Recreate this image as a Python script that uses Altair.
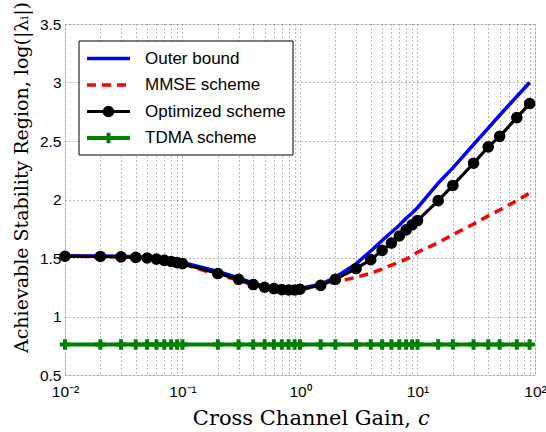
import altair as alt
import pandas as pd

# Cross channel gain c (log-spaced sample points)
gain = [0.01, 0.02, 0.03, 0.04, 0.05, 0.06, 0.07, 0.08, 0.09, 0.1,
        0.2, 0.3, 0.4, 0.5, 0.6, 0.7, 0.8, 0.9, 1.0,
        1.5, 2, 3, 4, 5, 6, 7, 8, 9, 10,
        15, 20, 30, 40, 50, 70, 90]

# Achievable stability region, log(|lambda_i|)
outer_bound = [1.52, 1.518, 1.515, 1.51, 1.505, 1.495, 1.487, 1.478, 1.47, 1.462,
               1.385, 1.33, 1.285, 1.258, 1.243, 1.237, 1.235, 1.236, 1.24,
               1.275, 1.335, 1.45, 1.56, 1.65, 1.72, 1.78, 1.84, 1.885, 1.93,
               2.14, 2.27, 2.47, 2.61, 2.72, 2.88, 3.0]
mmse = [1.515, 1.513, 1.51, 1.505, 1.5, 1.49, 1.48, 1.47, 1.46, 1.45,
        1.355, 1.31, 1.27, 1.248, 1.235, 1.228, 1.225, 1.225, 1.23,
        1.262, 1.295, 1.335, 1.37, 1.405, 1.44, 1.465, 1.49, 1.515, 1.55,
        1.63, 1.70, 1.79, 1.86, 1.91, 1.99, 2.055]
optimized = [1.515, 1.513, 1.51, 1.505, 1.5, 1.49, 1.48, 1.47, 1.46, 1.452,
             1.367, 1.318, 1.273, 1.25, 1.238, 1.23, 1.227, 1.227, 1.233,
             1.266, 1.317, 1.41, 1.486, 1.565, 1.628, 1.688, 1.74, 1.784, 1.82,
             1.99, 2.12, 2.31, 2.45, 2.54, 2.70, 2.82]
tdma = [0.76] * len(gain)

series_names = ["Outer bound", "MMSE scheme", "Optimized scheme", "TDMA scheme"]
series_values = [outer_bound, mmse, optimized, tdma]

x_ticks = [0.01, 0.02, 0.03, 0.04, 0.05, 0.06, 0.07, 0.08, 0.09,
           0.1, 0.2, 0.3, 0.4, 0.5, 0.6, 0.7, 0.8, 0.9,
           1, 2, 3, 4, 5, 6, 7, 8, 9,
           10, 20, 30, 40, 50, 60, 70, 80, 90, 100]
y_ticks = [0.5, 1, 1.5, 2, 2.5, 3, 3.5]

rows = []
for name, vals in zip(series_names, series_values):
    for g, v in zip(gain, vals):
        rows.append({"series": name, "gain": g, "value": v})
df = pd.DataFrame(rows)

SANS = "Liberation Sans"
SERIF = "DejaVu Serif"

x_label_expr = ("datum.value == 0.01 ? '10⁻²' : datum.value == 0.1 ? '10⁻¹' : "
                "datum.value == 1 ? '10⁰' : datum.value == 10 ? '10¹' : "
                "datum.value == 100 ? '10²' : ''")

x_enc = alt.X("gain:Q",
              scale=alt.Scale(type="log", domain=[0.01, 100], nice=False),
              axis=alt.Axis(values=x_ticks, labelExpr=x_label_expr, title=None,
                            grid=True, gridDash=[1, 3], gridColor="#777",
                            ticks=False, domain=False, labelFlush=False,
                            labelOverlap=False, labelFont=SANS, labelFontSize=15.5,
                            labelColor="black", labelPadding=9))
y_enc = alt.Y("value:Q",
              scale=alt.Scale(domain=[0.5, 3.5], nice=False),
              axis=alt.Axis(values=y_ticks, format="~g",
                            title="Achievable Stability Region, log(|λᵢ|)",
                            titleFont=SERIF, titleFontSize=19,
                            titleFontWeight="normal", titleColor="black",
                            titleAngle=270, titleX=-44, titleY=153,
                            titleAlign="center", titleBaseline="middle",
                            grid=True, gridDash=[1, 3], gridColor="#777",
                            ticks=False, domain=False, labelFont=SANS,
                            labelFontSize=15.5, labelColor="black", labelPadding=4))

base = alt.Chart(df).encode(x=x_enc, y=y_enc)

def sel(name):
    return base.transform_filter(alt.datum.series == name)

outer_line = sel("Outer bound").mark_line(color="#0000ff", strokeWidth=3.5)
mmse_line = sel("MMSE scheme").mark_line(color="#ff0000", strokeWidth=3.5,
                                          strokeDash=[9, 6])
opt_line = sel("Optimized scheme").mark_line(color="black", strokeWidth=3.2)
opt_pts = sel("Optimized scheme").mark_point(shape="circle", filled=True,
                                             color="black", size=135, opacity=1)
tdma_line = sel("TDMA scheme").mark_line(color="#008000", strokeWidth=4)
PLUS = "M-1,0L1,0M0,-1L0,1"
tdma_pts = sel("TDMA scheme").mark_point(shape=PLUS, filled=False,
                                         color="#008000", strokeWidth=4,
                                         size=110, opacity=1)

one = pd.DataFrame({"k": [0]})

def deco():
    return alt.Chart(one)

# Legend box
legend_box = deco().mark_rect(fill="white", stroke="black", strokeWidth=1).encode(
    x=alt.value(14), x2=alt.value(228), y=alt.value(17), y2=alt.value(131))

legend_rows = [34.5, 61, 87.5, 114]
legend_layers = [legend_box]
styles = [
    dict(color="#0000ff", strokeWidth=3.5),
    dict(color="#ff0000", strokeWidth=3.5, strokeDash=[9, 6]),
    dict(color="black", strokeWidth=3.2),
    dict(color="#008000", strokeWidth=4),
]
for name, ly, st in zip(series_names, legend_rows, styles):
    legend_layers.append(deco().mark_rule(**st).encode(
        x=alt.value(22), x2=alt.value(65), y=alt.value(ly)))
    legend_layers.append(deco().mark_text(
        text=name, font=SANS, fontSize=17, align="left", baseline="middle",
        color="black").encode(x=alt.value(80), y=alt.value(ly)))
legend_layers.append(deco().mark_point(shape="circle", filled=True, color="black",
                                       size=135, opacity=1).encode(
    x=alt.value(43.5), y=alt.value(legend_rows[2])))
legend_layers.append(deco().mark_point(shape=PLUS, filled=False, color="#008000",
                                       strokeWidth=4, size=110, opacity=1).encode(
    x=alt.value(43.5), y=alt.value(legend_rows[3])))

# x-axis title with an italic variable name
x_title = deco().mark_text(text="Cross Channel Gain,", font=SERIF, fontSize=21,
                           align="right", baseline="alphabetic",
                           color="black").encode(x=alt.value(346), y=alt.value(401))
x_title_c = deco().mark_text(text="c", font=SERIF, fontSize=21, fontStyle="italic",
                             align="left", baseline="alphabetic",
                             color="black").encode(x=alt.value(353), y=alt.value(401))

chart = alt.layer(
    outer_line, mmse_line, opt_line, opt_pts, tdma_line, tdma_pts,
    *legend_layers, x_title, x_title_c
).properties(
    width=470, height=351,
    autosize=alt.AutoSizeParams(type="none"),
    padding={"left": 65, "top": 24, "right": 11, "bottom": 57},
).configure_view(
    stroke="black", strokeWidth=1
).configure(background="white")

chart.save("out.html", embed_options={"renderer": "svg", "actions": False})
